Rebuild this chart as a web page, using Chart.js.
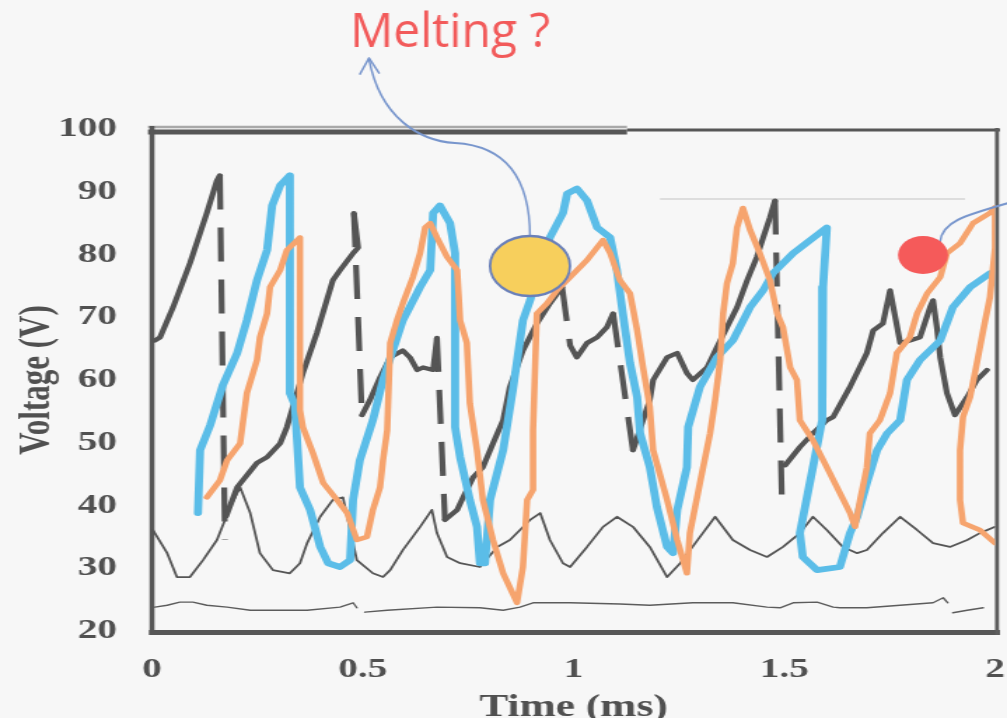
<!DOCTYPE html>
<html><head><meta charset="utf-8">
<script src="https://cdn.jsdelivr.net/npm/chart.js@4.4.1/dist/chart.umd.min.js"></script>
<style>
html,body{margin:0;padding:0;background:#f7f7f7;overflow:hidden;}
</style></head><body>
<canvas id="c" width="719" height="718" style="width:1007px;height:718px;display:block"></canvas>
<script>
// ---- data (time in ms, voltage in V) ----
const xTicks = [0, 0.5, 1, 1.5, 2];
const xTickLabels = ['0', '0.5', '1', '1.5', '2'];
const yTicks = [20, 30, 40, 50, 60, 70, 80, 90, 100];

const orangeLine = [[0.130,41.3],[0.161,44.0],[0.178,47.2],[0.209,49.9],[0.225,57.9],[0.249,63.2],[0.256,66.8],[0.273,70.6],[0.280,74.8],[0.304,77.5],[0.320,80.7],[0.351,82.7],[0.351,55.2],[0.358,52.5],[0.382,48.3],[0.406,43.6],[0.439,40.9],[0.463,38.8],[0.486,34.5],[0.510,35.0],[0.524,39.3],[0.541,42.9],[0.548,47.2],[0.558,52.0],[0.565,65.9],[0.581,69.5],[0.595,72.2],[0.619,76.4],[0.636,80.2],[0.648,84.3],[0.660,85.0],[0.676,82.7],[0.700,79.6],[0.724,77.5],[0.731,69.5],[0.747,65.9],[0.754,56.3],[0.771,48.8],[0.785,40.9],[0.809,34.5],[0.833,29.2],[0.866,24.5],[0.880,30.2],[0.890,40.9],[0.904,42.5],[0.904,52.0],[0.913,70.6],[0.937,72.2],[0.961,74.3],[0.992,76.4],[1.032,79.1],[1.070,82.3],[1.087,80.2],[1.110,75.9],[1.134,73.8],[1.151,67.9],[1.165,62.0],[1.181,55.7],[1.189,48.8],[1.222,40.9],[1.246,34.5],[1.269,29.2],[1.276,35.6],[1.300,43.6],[1.324,51.5],[1.336,56.8],[1.348,63.2],[1.355,70.6],[1.364,75.4],[1.378,78.6],[1.388,84.3],[1.402,87.4],[1.419,83.9],[1.442,80.2],[1.466,75.9],[1.483,70.6],[1.497,68.4],[1.514,62.0],[1.530,60.0],[1.537,53.6],[1.568,50.4],[1.601,46.1],[1.632,42.0],[1.656,38.8],[1.668,36.6],[1.680,40.9],[1.696,46.1],[1.703,51.5],[1.727,53.6],[1.751,57.9],[1.767,64.3],[1.798,66.8],[1.815,70.6],[1.839,73.8],[1.870,76.4],[1.886,80.2],[1.917,81.8],[1.948,85.0],[1.988,86.6],[2.000,87.5],[2.000,81.1],[1.988,73.2],[1.972,67.9],[1.957,62.7],[1.941,57.3],[1.924,54.1],[1.917,48.8],[1.917,40.9],[1.924,37.2],[1.964,36.1],[2.000,34.0]];

const blueLine = [[0.109,38.8],[0.114,48.8],[0.138,52.8],[0.168,59.2],[0.202,64.3],[0.225,69.5],[0.249,75.9],[0.273,80.7],[0.285,87.8],[0.304,91.0],[0.327,92.6],[0.327,57.9],[0.339,56.0],[0.351,42.9],[0.375,39.3],[0.399,33.4],[0.418,30.8],[0.446,30.2],[0.470,31.3],[0.477,40.9],[0.493,47.2],[0.524,53.6],[0.548,60.0],[0.595,69.5],[0.636,74.8],[0.660,77.5],[0.667,86.6],[0.683,87.8],[0.707,85.0],[0.719,80.2],[0.719,52.5],[0.731,47.7],[0.754,40.9],[0.771,36.6],[0.778,30.8],[0.790,30.8],[0.802,40.9],[0.833,48.8],[0.856,58.4],[0.880,69.5],[0.897,72.7],[0.944,82.7],[0.975,86.6],[0.985,89.7],[1.008,90.5],[1.032,88.6],[1.056,84.3],[1.087,82.7],[1.103,77.5],[1.117,70.6],[1.134,62.7],[1.151,57.3],[1.158,51.5],[1.181,46.1],[1.198,39.7],[1.222,33.4],[1.236,32.4],[1.246,39.3],[1.269,46.1],[1.272,52.5],[1.300,58.9],[1.340,63.6],[1.378,66.3],[1.419,71.6],[1.450,74.3],[1.473,77.0],[1.521,80.2],[1.601,84.3],[1.592,74.8],[1.590,53.6],[1.568,46.1],[1.537,35.6],[1.544,31.8],[1.578,29.7],[1.632,30.2],[1.656,35.6],[1.673,38.2],[1.696,43.6],[1.720,48.8],[1.744,51.5],[1.775,53.6],[1.791,60.0],[1.822,63.2],[1.870,66.3],[1.900,71.6],[1.941,74.8],[1.988,77.0]];

const grayThickSolid = [[0.007,66.3],[0.019,66.8],[0.050,71.6],[0.090,78.6],[0.130,86.6],[0.154,91.8],[0.161,92.6],null,
 [0.176,38.3],[0.202,42.9],[0.249,46.8],[0.273,47.7],[0.304,49.9],[0.320,52.5],[0.344,57.9],[0.358,61.1],[0.391,67.5],[0.429,75.9],[0.446,77.5],[0.477,80.2],[0.489,81.1],[0.479,86.6],null,
 [0.498,54.4],[0.517,56.8],[0.541,60.4],[0.565,63.6],[0.595,64.7],[0.612,63.6],[0.629,61.6],[0.643,62.0],[0.667,61.6],[0.676,66.7],null,
 [0.695,37.7],[0.724,39.3],[0.738,41.3],[0.762,44.5],[0.785,46.1],[0.809,49.9],[0.833,53.6],[0.849,58.9],[0.880,64.7],[0.913,69.0],[0.944,72.2],[0.973,74.8],null,
 [0.992,65.5],[1.008,63.6],[1.032,65.9],[1.056,66.8],[1.079,68.4],[1.094,70.6],null,
 [1.141,48.8],[1.181,56.8],[1.189,60.0],[1.222,63.6],[1.246,64.3],[1.269,61.1],[1.283,60.0],[1.317,62.0],[1.340,65.2],[1.364,68.4],[1.388,71.6],[1.412,75.9],[1.435,79.6],[1.450,82.7],[1.466,85.9],[1.478,88.6],null,
 [1.502,46.4],[1.537,49.3],[1.568,51.5],[1.601,53.6],[1.616,54.1],[1.656,58.9],[1.696,64.3],[1.711,67.9],[1.734,69.0],[1.751,74.3],[1.767,68.7],[1.775,65.9],[1.798,66.3],[1.822,66.8],[1.846,71.6],[1.853,72.7],[1.862,68.4],[1.870,63.6],[1.886,57.9],[1.905,54.4],[1.934,57.3],[1.957,60.0],[1.981,61.6]];

const grayThickDrops = [[0.161,92.6],[0.173,34.5],null,[0.479,86.6],[0.498,54.4],null,[0.676,66.7],[0.695,37.7],null,[0.973,74.8],[0.992,65.5],null,[1.094,70.6],[1.141,48.8],null,[1.478,88.6],[1.495,38.9]];

const grayThinUpper = [[0.002,36.1],[0.036,32.4],[0.059,28.6],[0.090,28.6],[0.121,31.3],[0.154,34.5],[0.185,39.7],[0.209,42.9],[0.233,38.8],[0.256,32.4],[0.287,29.7],[0.327,29.2],[0.351,30.8],[0.368,34.0],[0.399,38.2],[0.429,40.9],[0.453,41.3],[0.486,31.3],[0.524,29.2],[0.548,28.6],[0.565,29.7],[0.595,32.9],[0.636,36.6],[0.664,39.3],[0.676,35.6],[0.700,31.8],[0.731,30.8],[0.778,30.2],[0.819,33.4],[0.849,34.5],[0.873,36.1],[0.897,37.7],[0.921,38.8],[0.944,34.5],[0.975,30.8],[0.992,30.2],[1.032,33.4],[1.070,36.6],[1.103,38.2],[1.141,36.6],[1.181,33.4],[1.222,28.6],[1.253,30.8],[1.300,35.0],[1.336,38.2],[1.378,34.5],[1.419,32.9],[1.459,31.8],[1.497,33.4],[1.537,35.6],[1.568,38.2],[1.601,36.1],[1.639,33.4],[1.673,32.4],[1.696,32.9],[1.734,35.6],[1.775,38.2],[1.815,36.1],[1.853,34.0],[1.893,33.4],[1.934,34.5],[1.964,35.6],[2.000,36.6]];

const grayThinLower = [[0.007,23.8],[0.036,24.1],[0.066,24.6],[0.097,24.6],[0.130,24.1],[0.178,23.8],[0.233,23.3],[0.368,23.3],[0.446,23.8],[0.477,24.5],[0.486,23.7],null,[0.505,23.0],[0.558,23.3],[0.676,23.8],[0.778,23.7],[0.833,23.3],[0.873,23.8],[0.904,24.5],[0.992,24.5],[1.110,24.3],[1.181,24.1],[1.283,24.5],[1.378,24.5],[1.459,23.8],[1.490,23.7],[1.521,24.5],[1.578,24.6],[1.616,23.8],[1.632,23.7],[1.696,23.7],[1.775,24.1],[1.853,24.5],[1.877,25.3],[1.888,24.5],null,[1.900,22.9],[1.934,23.3],[1.972,23.7]];

// ---- helpers ----
function toXY(arr){
  let lastX = 0;
  return arr.map(p => {
    if (p === null) return {x:lastX, y:null};
    lastX = p[0];
    return {x:p[0], y:p[1]};
  });
}

const canvas = document.getElementById('c');
const S = 1007 / 719; // horizontal stretch of the pasted figure

function seg(ctx, x1, y1, x2, y2, color, w){
  ctx.beginPath(); ctx.moveTo(x1,y1); ctx.lineTo(x2,y2);
  ctx.strokeStyle = color; ctx.lineWidth = w; ctx.stroke();
}

const decor = {
  id: 'decor',
  beforeDraw(chart){
    const ctx = chart.ctx;
    ctx.save(); ctx.fillStyle = '#f7f7f7'; ctx.fillRect(0,0,chart.width,chart.height); ctx.restore();
  },
  beforeDatasetsDraw(chart){
    const ctx = chart.ctx, a = chart.chartArea;
    const L = a.left*S, R = a.right*S, T = a.top, B = a.bottom;
    ctx.save(); ctx.scale(1/S, 1); ctx.lineCap = 'butt';
    seg(ctx, L-4, T-2, 627, T-2, '#a9a9a9', 2.5);
    seg(ctx, L-4, T+3, 627, T+3, '#575757', 5);
    seg(ctx, 627, T+1, R+5, T+1, '#575757', 3);
    seg(ctx, L, T-3, L, B+4, '#575757', 5);
    seg(ctx, L-3, B+1.5, R+5, B+1.5, '#575757', 5);
    seg(ctx, R+2, T-1, R+2, B+4, '#5e5e5e', 4);
    seg(ctx, 660, 199, 965, 199, '#c4c4c4', 1.2);
    ctx.restore();
  },
  afterDraw(chart){
    const ctx = chart.ctx;
    ctx.save(); ctx.scale(1/S, 1);
    ctx.lineCap = 'round'; ctx.lineJoin = 'round';
    // curved arrow to the label
    ctx.beginPath(); ctx.moveTo(530,237);
    ctx.bezierCurveTo(530,180, 508,146, 455,143);
    ctx.bezierCurveTo(420,141, 380,118, 369,59);
    ctx.strokeStyle = '#7896cd'; ctx.lineWidth = 2; ctx.stroke();
    ctx.beginPath(); ctx.moveTo(360,74); ctx.lineTo(369,58); ctx.lineTo(379,73); ctx.stroke();
    // yellow ellipse
    ctx.beginPath(); ctx.ellipse(530,266,40,30,0,0,Math.PI*2);
    ctx.fillStyle = '#f7cf5c'; ctx.fill();
    ctx.strokeStyle = '#6a80b9'; ctx.lineWidth = 2.5; ctx.stroke();
    // red ellipse connector
    ctx.beginPath(); ctx.moveTo(940,242); ctx.bezierCurveTo(942,222, 962,216, 1012,202);
    ctx.strokeStyle = '#7896cd'; ctx.lineWidth = 2; ctx.stroke();
    ctx.beginPath(); ctx.ellipse(923,255,25,19,0,0,Math.PI*2);
    ctx.fillStyle = '#f55a5a'; ctx.fill();
    // label
    ctx.font = '48px "Open Sans"'; ctx.fillStyle = '#f25a5a';
    ctx.textBaseline = 'alphabetic'; ctx.textAlign = 'left';
    ctx.fillText('Melting ?', 350, 47);
    ctx.restore();
  }
};

const tickFont = {family:'"Liberation Serif", "Times New Roman", serif', size:28, weight:'bold'};
const titleFont = {family:'"Liberation Serif", "Times New Roman", serif', size:31, weight:'bold'};
const base = {showLine:true, pointRadius:0, pointHoverRadius:0, tension:0, fill:false, spanGaps:false, borderJoinStyle:'round', borderCapStyle:'round'};

new Chart(canvas, {
  type: 'scatter',
  data: {
    datasets: [
      Object.assign({}, base, {label:'orange', data: toXY(orangeLine), borderColor:'#f6a46e', borderWidth:4.6}),
      Object.assign({}, base, {label:'blue', data: toXY(blueLine), borderColor:'#5bbde8', borderWidth:5.8}),
      Object.assign({}, base, {label:'gray solid', data: toXY(grayThickSolid), borderColor:'#555555', borderWidth:4.2}),
      Object.assign({}, base, {label:'gray drops', data: toXY(grayThickDrops), borderColor:'#555555', borderWidth:4.2, borderDash:[34,18], borderCapStyle:'butt'}),
      Object.assign({}, base, {label:'thin upper', data: toXY(grayThinUpper), borderColor:'#555555', borderWidth:1.8}),
      Object.assign({}, base, {label:'thin lower', data: toXY(grayThinLower), borderColor:'#5c5c5c', borderWidth:1.4})
    ]
  },
  options: {
    responsive: false,
    animation: false,
    events: [],
    layout: {padding: {left:0, right: 719 - 995/S, top:129, bottom:0}},
    plugins: {legend:{display:false}, tooltip:{enabled:false}},
    scales: {
      x: {
        type:'linear', min: xTicks[0], max: xTicks[xTicks.length-1],
        afterBuildTicks: s => { s.ticks = xTicks.map(v => ({value:v})); },
        ticks: {padding:22, maxRotation:0, autoSkip:false, color:'#505050', font:tickFont,
                callback: (v, i) => xTickLabels[i]},
        grid: {display:false, drawTicks:false}, border:{display:false},
        title: {display:true, text:'Time (ms)', color:'#505050', font:titleFont, padding:{top:0, bottom:-9}},
        afterFit: s => { s.height = 87; s.paddingLeft = 0; s.paddingRight = 0; }
      },
      y: {
        type:'linear', min: yTicks[0], max: yTicks[yTicks.length-1],
        afterBuildTicks: s => { s.ticks = yTicks.map(v => ({value:v})); },
        ticks: {padding:25, color:'#505050', font:tickFont},
        grid: {display:false, drawTicks:false}, border:{display:false},
        title: {display:true, text:'Voltage (V)', color:'#505050', font:titleFont, padding:{top:8, bottom:0}},
        afterFit: s => { s.width = 152/S; s.paddingTop = 0; s.paddingBottom = 0; }
      }
    }
  },
  plugins: [decor]
});
</script>
</body></html>
